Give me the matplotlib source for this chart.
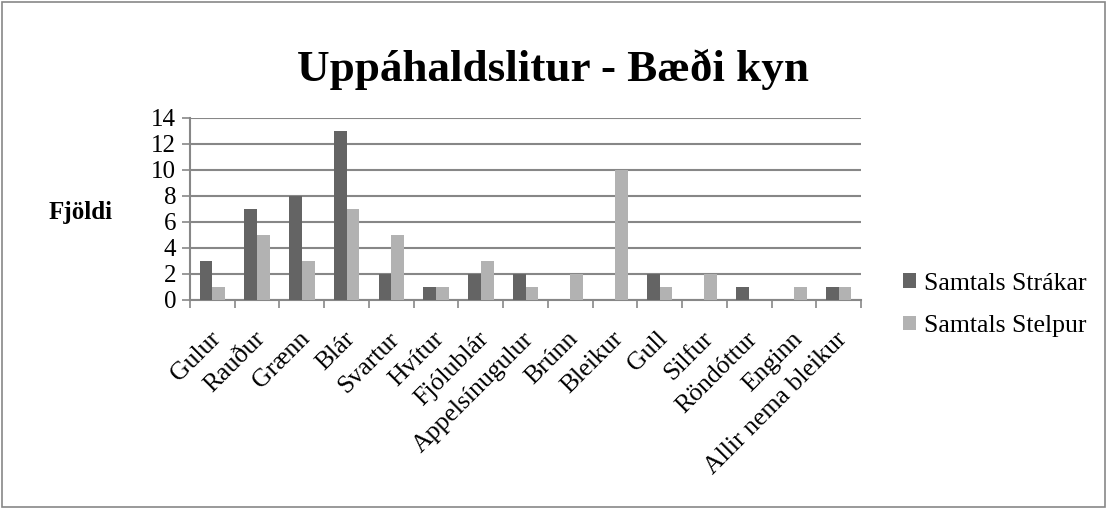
import numpy as np
import matplotlib.pyplot as plt
from matplotlib.patches import Rectangle
from matplotlib.transforms import ScaledTranslation

# data
litir = ['Gulur', 'Rauður', 'Grænn', 'Blár', 'Svartur', 'Hvítur', 'Fjólublár',
         'Appelsínugulur', 'Brúnn', 'Bleikur', 'Gull', 'Silfur', 'Röndóttur',
         'Enginn', 'Allir nema bleikur']
strakar = [3, 7, 8, 13, 2, 1, 2, 2, 0, 0, 2, 0, 1, 0, 1]
stelpur = [1, 5, 3, 7, 5, 1, 3, 1, 2, 10, 1, 2, 0, 1, 1]
yticks = [0, 2, 4, 6, 8, 10, 12, 14]

plt.rcParams['font.family'] = ['Liberation Serif', 'DejaVu Serif']

fig = plt.figure(figsize=(11.08, 5.09), dpi=100)
ax = fig.add_axes([190/1108, 1 - 300/509, 671/1108, 182/509])

x = np.arange(len(litir))
w = 1 / 3.5
ax.bar(x - w/2, strakar, w, color='#646464', label='Samtals Strákar', zorder=3)
ax.bar(x + w/2, stelpur, w, color='#b2b2b2', label='Samtals Stelpur', zorder=3)

ax.set_xlim(-0.5, len(litir) - 0.5)
ax.set_ylim(0, 14)
ax.set_yticks(yticks)
ax.set_yticklabels([str(t) for t in yticks], fontsize=18)
ax.yaxis.grid(True, color='#878787', linewidth=1.5, zorder=0)
ax.tick_params(axis='y', length=6, color='#878787', width=1.2, pad=4)

# category ticks sit between the groups
ax.set_xticks(np.arange(len(litir) + 1) - 0.5, minor=True)
ax.tick_params(axis='x', which='minor', length=6, color='#878787', width=1.2)
ax.set_xticks(x)
ax.set_xticklabels(litir, rotation=45, ha='right', rotation_mode='anchor', fontsize=18.5)
ax.tick_params(axis='x', which='major', length=0, pad=20)
for lab in ax.get_xticklabels():
    lab.set_transform(lab.get_transform() + ScaledTranslation(-0.03, 0, fig.dpi_scale_trans))

for s in ['top', 'right']:
    ax.spines[s].set_visible(False)
ax.spines['bottom'].set_color('#878787')
ax.spines['bottom'].set_linewidth(1.5)
ax.spines['left'].set_color('#878787')
ax.spines['left'].set_linewidth(1.5)

fig.text(553/1108, 1 - 69/509, 'Uppáhaldslitur - Bæði kyn', ha='center', va='center',
         fontsize=32.5, fontweight='bold')
fig.text(81/1108, 1 - 213/509, 'Fjöldi', ha='center', va='center',
         fontsize=18, fontweight='bold')

ax.legend(loc='center left', bbox_to_anchor=(880/1108, 1 - 305/509), bbox_transform=fig.transFigure,
          frameon=False, fontsize=18.5, handlelength=0.5, handleheight=0.5, handletextpad=0.3,
          labelspacing=0.8)

fig.patches.append(Rectangle((0.002, 0.003), 0.995, 0.994, transform=fig.transFigure,
                             fill=False, edgecolor='#878787', linewidth=1.2))

fig.savefig('out.png', dpi=100)
